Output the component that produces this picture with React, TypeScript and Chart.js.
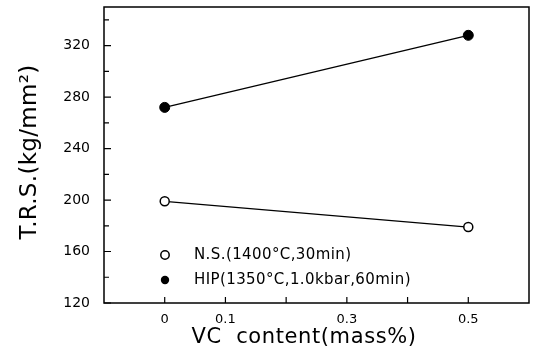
import React, { useEffect, useRef } from "react";
import { Chart, registerables } from "chart.js";
Chart.register(...registerables);

const vcContent = [0, 0.5];
const nsValues = [199, 179];
const hipValues = [272, 328];
const seriesLabels = ["N.S.(1400°C,30min)", "HIP(1350°C,1.0kbar,60min)"];
const xTickValues = [0, 0.1, 0.2, 0.3, 0.4, 0.5];
const xTickLabels = ["0", "0.1", "", "0.3", "", "0.5"];
const yTickValues = [120, 160, 200, 240, 280, 320];
const yMinorValues = [140, 180, 220, 260, 300, 340];
const xTitle = "VC  content(mass%)";
const yTitle = "T.R.S.(kg/mm²)";

const FONT = "'DejaVu Sans', 'Liberation Sans', sans-serif";

const framePlugin = {
  id: "frame",
  afterDraw(chart: any) {
    const { ctx, chartArea: a, scales } = chart;
    const xs = scales.x;
    const ys = scales.y;
    ctx.save();
    ctx.strokeStyle = "#000";
    ctx.lineWidth = 1.5;
    ctx.strokeRect(a.left, a.top, a.right - a.left, a.bottom - a.top);
    ctx.lineWidth = 1.2;
    ctx.beginPath();
    yTickValues.forEach((v) => {
      const y = ys.getPixelForValue(v);
      ctx.moveTo(a.left, y);
      ctx.lineTo(a.left + 7, y);
    });
    yMinorValues.forEach((v) => {
      const y = ys.getPixelForValue(v);
      ctx.moveTo(a.left, y);
      ctx.lineTo(a.left + 5, y);
    });
    xTickValues.forEach((v) => {
      const x = xs.getPixelForValue(v);
      ctx.moveTo(x, a.bottom);
      ctx.lineTo(x, a.bottom - 6);
    });
    ctx.stroke();

    // legend
    const lx = a.left + 61;
    const rows = [a.bottom - 48, a.bottom - 23];
    chart.data.datasets.forEach((ds: any, i: number) => {
      const y = rows[i];
      ctx.beginPath();
      ctx.arc(lx, y, 4.2, 0, Math.PI * 2);
      if (ds.pointBackgroundColor === "#000") {
        ctx.fillStyle = "#000";
        ctx.fill();
      } else {
        ctx.lineWidth = 1.5;
        ctx.stroke();
      }
      ctx.fillStyle = "#000";
      ctx.font = `15px ${FONT}`;
      (ctx as any).letterSpacing = "0.4px";
      ctx.textBaseline = "middle";
      ctx.textAlign = "left";
      ctx.fillText(ds.label, lx + 29, y);
    });

    // axis titles
    (ctx as any).letterSpacing = "0.6px";
    ctx.font = `21px ${FONT}`;
    ctx.textAlign = "center";
    ctx.textBaseline = "middle";
    ctx.fillText(xTitle, a.left + 200, a.bottom + 35);

    (ctx as any).letterSpacing = "0.3px";
    ctx.font = `23px ${FONT}`;
    ctx.translate(30, (a.top + a.bottom) / 2 - 3);
    ctx.rotate(-Math.PI / 2);
    ctx.fillText(yTitle, 0, 0);
    ctx.restore();
  },
};

export default function App() {
  const ref = useRef<HTMLCanvasElement>(null);
  useEffect(() => {
    document.body.style.margin = "0";
    const chart = new Chart(ref.current!, {
      type: "scatter",
      data: {
        datasets: [
          {
            label: seriesLabels[0],
            data: vcContent.map((x, i) => ({ x, y: nsValues[i] })),
            showLine: true,
            borderColor: "#000",
            borderWidth: 1.3,
            pointRadius: 4.5,
            pointBorderWidth: 1.5,
            pointBorderColor: "#000",
            pointBackgroundColor: "#fff",
          },
          {
            label: seriesLabels[1],
            data: vcContent.map((x, i) => ({ x, y: hipValues[i] })),
            showLine: true,
            borderColor: "#000",
            borderWidth: 1.3,
            pointRadius: 5,
            pointBorderWidth: 1,
            pointBorderColor: "#000",
            pointBackgroundColor: "#000",
          },
        ],
      },
      options: {
        animation: false,
        responsive: true,
        maintainAspectRatio: false,
        layout: { padding: { top: 7, right: 7, left: 0, bottom: 0 } },
        plugins: { legend: { display: false }, tooltip: { enabled: false } },
        scales: {
          x: {
            type: "linear",
            min: -0.1,
            max: 0.6,
            grid: { display: false, drawTicks: false },
            border: { display: false },
            afterBuildTicks: (s: any) => {
              s.ticks = xTickValues.map((value) => ({ value }));
            },
            afterFit: (s: any) => {
              s.height = 53;
              s.paddingLeft = 0;
              s.paddingRight = 0;
            },
            ticks: {
              autoSkip: false,
              maxRotation: 0,
              padding: 9,
              color: "#000",
              font: { family: FONT, size: 13 },
              callback: (v: any) => {
                const i = xTickValues.findIndex((t) => Math.abs(t - Number(v)) < 1e-9);
                return i >= 0 ? xTickLabels[i] : "";
              },
            },
          },
          y: {
            type: "linear",
            min: 120,
            max: 350,
            grid: { display: false, drawTicks: false },
            border: { display: false },
            afterBuildTicks: (s: any) => {
              s.ticks = yTickValues.map((value) => ({ value }));
            },
            afterFit: (s: any) => {
              s.width = 104;
              s.paddingTop = 0;
              s.paddingBottom = 0;
            },
            ticks: {
              autoSkip: false,
              padding: 14,
              color: "#000",
              font: { family: FONT, size: 14 },
            },
          },
        },
      },
      plugins: [framePlugin],
    });
    return () => chart.destroy();
  }, []);
  return (
    <div style={{ position: "fixed", left: 0, top: 0, width: 536, height: 356, background: "#fff" }}>
      <canvas ref={ref} />
    </div>
  );
}
